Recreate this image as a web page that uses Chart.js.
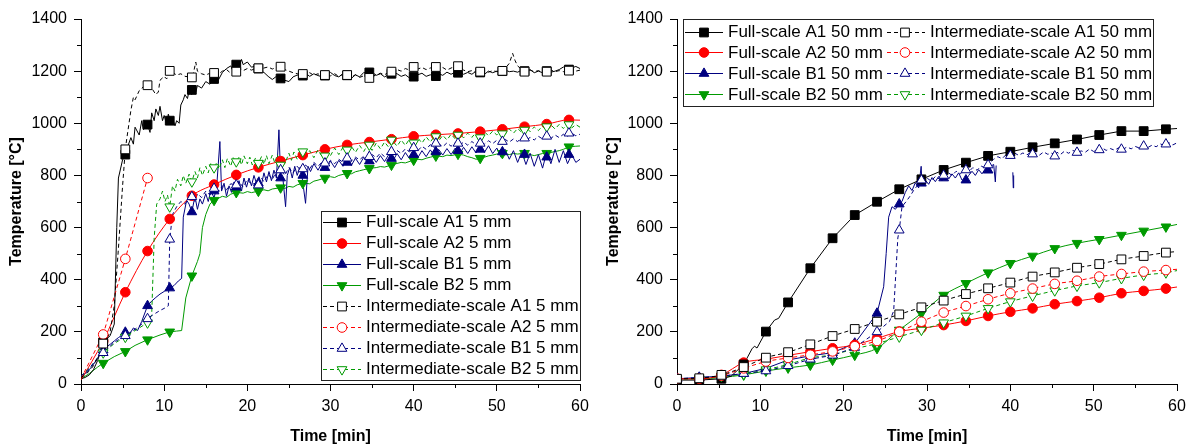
<!DOCTYPE html>
<html>
<head>
<meta charset="utf-8">
<script src="https://cdn.jsdelivr.net/npm/chart.js@4.4.1/dist/chart.umd.min.js"></script>
<style>
  html, body { margin: 0; padding: 0; background: #fff; }
  #wrap { position: relative; width: 1194px; height: 446px; }
  canvas { position: absolute; top: 0; }
</style>
</head>
<body>
<div id="wrap">
  <canvas id="left" width="597" height="446" style="left:0"></canvas>
  <canvas id="right" width="597" height="446" style="left:597px"></canvas>
</div>
<script>
// marker times in minutes (one every 160 s), plus the start and end of the test
const tSmooth = [0, 2.67, 5.33, 8, 10.67, 13.33, 16, 18.67, 21.33, 24, 26.67, 29.33, 32, 34.67, 37.33, 40, 42.67, 45.33, 48, 50.67, 53.33, 56, 58.67, 60];
const xMinor = [5, 15, 25, 35, 45, 55];
const yMinor = [100, 300, 500, 700, 900, 1100, 1300];

const leftLabels = ["Full-scale A1 5 mm", "Full-scale A2 5 mm", "Full-scale B1 5 mm", "Full-scale B2 5 mm",
  "Intermediate-scale A1 5 mm", "Intermediate-scale A2 5 mm", "Intermediate-scale B1 5 mm", "Intermediate-scale B2 5 mm"];
const rightLabels = ["Full-scale A1 50 mm", "Full-scale A2 50 mm", "Full-scale B1 50 mm", "Full-scale B2 50 mm",
  "Intermediate-scale A1 50 mm", "Intermediate-scale A2 50 mm", "Intermediate-scale B1 50 mm", "Intermediate-scale B2 50 mm"];

// ---- 5 mm (left panel) ----
const fs5A1Trace = [[0,20],[0.5,25],[1,35],[1.5,55],[2,90],[2.5,140],[2.67,160],[3,170],[3.5,185],[4,230],[4.3,600],[4.5,790],[5,860],[5.3,880],[5.5,900],[6,945],[6.3,920],[6.5,985],[7,955],[7.3,1010],[7.5,975],[8,995],[8.3,965],[8.5,1040],[8.8,1010],[9,1055],[9.3,1030],[9.5,1065],[9.8,1010],[10,1030],[10.3,995],[10.5,1035],[10.8,1000],[11,1020],[11.3,990],[11.5,1010],[11.8,1000],[12,1070],[12.3,1090],[12.5,1110],[12.8,1095],[13,1125],[13.3,1110],[13.5,1135],[13.8,1120],[14,1145],[14.5,1135],[15,1160],[15.5,1150],[16,1170],[16.5,1165],[17,1195],[17.5,1210],[18,1220],[18.3,1200],[18.5,1235],[19,1220],[19.3,1245],[19.5,1225],[20,1235],[20.5,1215],[21,1220],[21.5,1200],[22,1195],[22.5,1180],[23,1168],[23.5,1180],[24,1170],[24.5,1165],[25,1160],[25.5,1178],[26,1185],[26.5,1178],[27,1192],[27.5,1180],[28,1190],[28.5,1183],[29,1178],[29.5,1192],[30,1195],[30.5,1183],[31,1178],[31.5,1190],[32,1184],[32.5,1172],[33,1186],[33.5,1178],[34,1195],[34.5,1188],[35,1196],[35.5,1184],[36,1190],[36.5,1178],[37,1186],[37.5,1195],[38,1190],[38.5,1180],[39,1186],[39.5,1174],[40,1180],[40.5,1186],[41,1192],[41.5,1180],[42,1186],[42.5,1178],[43,1190],[43.5,1184],[44,1196],[44.5,1188],[45,1196],[45.5,1200],[46,1188],[46.5,1195],[47,1188],[47.5,1200],[48,1194],[48.5,1188],[49,1200],[49.5,1194],[50,1200],[50.5,1194],[51,1204],[51.5,1198],[52,1200],[52.5,1196],[53,1204],[53.5,1198],[54,1206],[54.5,1194],[55,1200],[55.5,1194],[56,1204],[56.5,1196],[57,1200],[57.5,1206],[58,1216],[58.5,1206],[59,1212],[59.5,1218],[60,1210]];
const fs5A1Marks = [null,160,880,995,1010,1128,1170,1225,1210,1172,1183,1183,1184,1195,1190,1179,1181,1194,1195,1200,1200,1200,1206,null];

const fs5A2 = [15,165,352,510,633,722,765,802,831,855,878,900,917,928,939,950,956,961,968,977,987,997,1013,1012];

const fs5B1Trace = [[0,30],[0.5,40],[1,55],[1.5,75],[2,100],[2.67,130],[3,140],[3.5,152],[4,165],[4.5,178],[5,188],[5.33,198],[5.8,190],[6.3,215],[6.8,205],[7.3,240],[8,300],[8.5,318],[9,332],[9.5,345],[10,355],[10.67,368],[11.2,378],[11.7,395],[12.1,405],[12.3,640],[12.7,705],[13,690],[13.33,660],[13.7,720],[14,670],[14.3,710],[14.6,690],[15,730],[15.3,700],[15.6,740],[16,715],[16.3,750],[16.7,930],[16.9,740],[17.2,770],[17.5,720],[17.8,760],[18.1,735],[18.4,775],[18.7,750],[19,780],[19.3,740],[19.6,790],[19.9,755],[20.2,790],[20.5,760],[20.8,800],[21.1,770],[21.4,795],[21.7,765],[22,810],[22.3,775],[22.6,815],[22.9,780],[23.2,820],[23.5,790],[23.8,975],[24,800],[24.3,780],[24.6,680],[24.8,800],[25.1,830],[25.4,790],[25.7,835],[26,800],[26.3,830],[26.6,790],[27,693],[27.3,835],[27.6,815],[28,845],[28.5,820],[29,850],[29.5,825],[30,855],[30.5,830],[31,858],[31.5,835],[32,862],[32.5,838],[33,866],[33.5,842],[34,870],[34.5,846],[35,874],[35.5,850],[36,876],[36.5,853],[37,880],[37.5,856],[38,884],[38.5,860],[39,888],[39.5,864],[40,892],[40.5,868],[41,895],[41.5,872],[42,898],[42.5,875],[43,900],[43.5,878],[44,903],[44.5,880],[45,905],[45.5,882],[46,908],[46.5,884],[47,910],[47.5,886],[48,912],[48.5,888],[49,914],[49.5,884],[50,905],[50.5,870],[51,900],[51.5,862],[52,895],[52.5,850],[53,890],[53.5,842],[54,885],[54.5,835],[55,880],[55.5,828],[56,890],[56.5,845],[57,900],[57.5,850],[58,895],[58.5,845],[59,880],[59.5,850],[60,862]];
const fs5B1Marks = [null,130,198,300,368,660,740,755,770,790,800,830,850,855,865,880,890,895,900,890,880,870,880,null];

const fs5B2Trace = [[0,20],[1,40],[2,65],[2.67,80],[4,105],[5.33,125],[6.5,148],[8,170],[9.5,188],[10.67,200],[11.5,203],[12.1,205],[12.6,330],[13.33,415],[14,470],[14.3,500],[14.6,600],[15,650],[15.5,690],[16,705],[16.5,712],[17,720],[17.5,716],[18,728],[18.67,735],[19.5,732],[20,738],[20.5,734],[21.33,740],[22,745],[22.5,741],[23,748],[24,753],[24.5,750],[25,758],[25.5,755],[26,764],[26.67,770],[27.5,768],[28,778],[28.5,782],[29.33,790],[30,795],[30.5,792],[31,800],[32,808],[32.5,806],[33,814],[33.5,818],[34,822],[34.67,827],[35.5,830],[36,834],[36.5,832],[37.33,840],[38,846],[38.5,850],[39,848],[40,859],[40.5,862],[41,860],[41.5,866],[42,870],[42.67,875],[43.5,872],[44,878],[44.5,876],[45.33,882],[46,878],[46.5,872],[47,868],[47.5,862],[48,866],[48.5,870],[49,875],[49.5,878],[50,882],[50.67,885],[51.5,880],[52,884],[52.5,882],[53.33,885],[54,880],[54.5,876],[55,880],[55.5,884],[56,885],[56.5,888],[57,892],[57.5,895],[58,900],[58.67,910],[59.5,912],[60,913]];
const fs5B2Marks = [null,80,125,170,200,415,705,735,740,753,770,790,808,827,840,859,875,882,866,885,885,885,910,null];

const is5A1Trace = [[0,25],[0.5,35],[1,50],[1.5,70],[2,100],[2.5,135],[2.67,155],[3,165],[3.5,200],[4,300],[4.5,520],[5,760],[5.33,900],[5.5,940],[6,1050],[6.3,1100],[6.5,1090],[7,1125],[7.5,1140],[8,1148],[8.5,1135],[9,1110],[9.3,1120],[9.5,1165],[10,1180],[10.3,1170],[10.67,1200],[11,1195],[11.5,1185],[12,1190],[12.5,1180],[13,1178],[13.5,1190],[13.8,1235],[14,1200],[14.5,1190],[15,1185],[15.5,1192],[16,1193],[16.5,1188],[17,1200],[17.5,1206],[18,1192],[18.5,1200],[19,1212],[19.5,1202],[20,1210],[20.5,1204],[21,1210],[21.5,1206],[22,1212],[22.5,1216],[23,1208],[23.5,1215],[24,1217],[24.5,1206],[25,1200],[25.5,1194],[26,1190],[26.5,1190],[27,1186],[27.5,1194],[28,1184],[28.5,1190],[29,1180],[29.5,1188],[30,1182],[30.5,1190],[31,1180],[31.5,1188],[32,1185],[32.5,1178],[33,1186],[33.5,1176],[34,1182],[34.5,1174],[35,1180],[35.5,1186],[36,1192],[36.5,1186],[37,1196],[37.5,1200],[38,1206],[38.5,1200],[39,1210],[39.5,1204],[40,1215],[40.5,1208],[41,1214],[41.5,1206],[42,1212],[42.5,1216],[43,1208],[43.5,1214],[44,1204],[44.5,1212],[45,1218],[45.5,1212],[46,1204],[46.5,1198],[47,1202],[47.5,1196],[48,1198],[48.5,1204],[49,1196],[49.5,1202],[50,1198],[50.5,1202],[51,1210],[51.5,1230],[51.9,1268],[52.2,1240],[52.5,1220],[53,1206],[53.5,1198],[54,1204],[54.5,1198],[55,1202],[55.5,1196],[56,1198],[56.5,1204],[57,1198],[57.5,1202],[58,1198],[58.5,1202],[59,1206],[59.5,1200],[60,1204]];
const is5A1Marks = [null,155,900,1146,1201,1176,1193,1198,1211,1217,1189,1185,1185,1174,1198,1216,1216,1219,1198,1201,1198,1198,1202,null];

const is5A2Trace = [[0,20],[2.67,190],[5.33,480],[8,790]];
const is5A2Marks = [null,190,480,790,null,null,null,null,null,null,null,null,null,null,null,null,null,null,null,null,null,null,null,null];

const is5B1Trace = [[0,30],[0.5,45],[1,60],[1.5,80],[2,100],[2.67,120],[3,130],[3.5,145],[4,160],[4.5,170],[5,180],[5.33,185],[6,200],[6.5,210],[7,222],[7.5,235],[8,250],[8.5,262],[9,272],[9.5,282],[10,290],[10.5,300],[10.67,555],[11,650],[11.5,680],[12,700],[12.5,690],[13,715],[13.33,718],[13.7,700],[14,730],[14.5,715],[15,740],[15.5,725],[16,750],[16.5,735],[17,760],[17.5,745],[18,768],[18.67,763],[19,775],[19.5,755],[20,785],[20.5,765],[21,770],[21.33,763],[21.7,790],[22,775],[22.5,805],[23,785],[23.5,815],[24,821],[24.5,800],[25,830],[25.5,810],[26,835],[26.5,815],[27,840],[27.5,825],[28,850],[28.5,835],[29,852],[29.5,840],[30,858],[30.5,845],[31,862],[31.5,850],[32,866],[32.5,855],[33,870],[33.5,860],[34,874],[34.5,865],[35,880],[35.5,868],[36,886],[36.5,872],[37,890],[37.5,880],[38,896],[38.5,884],[39,902],[39.5,890],[40,906],[40.5,895],[41,912],[41.5,900],[42,918],[42.5,906],[43,922],[43.5,910],[44,925],[44.5,912],[45,926],[45.5,914],[46,928],[46.5,916],[47,930],[47.5,918],[48,930],[48.5,920],[49,933],[49.5,922],[50,935],[50.5,925],[51,938],[51.5,928],[52,940],[52.5,930],[53,944],[53.5,934],[54,946],[54.5,936],[55,950],[55.5,940],[56,952],[56.5,942],[57,955],[57.5,945],[58,958],[58.5,950],[59,962],[59.5,952],[60,958]];
const is5B1Marks = [null,120,185,250,555,718,750,763,763,821,825,847,866,872,891,906,923,923,923,930,943,950,962,null];

const is5B2Trace = [[0,30],[0.5,45],[1,60],[1.5,80],[2,100],[2.67,120],[3,128],[3.5,142],[4,155],[4.5,165],[5,175],[5.33,180],[6,195],[6.5,205],[7,215],[7.5,225],[8,235],[8.5,265],[8.8,560],[9.1,690],[9.5,710],[9.8,740],[10.1,700],[10.4,725],[10.67,680],[11,760],[11.3,740],[11.6,785],[12,760],[12.3,800],[12.6,770],[13,805],[13.33,776],[13.7,815],[14,790],[14.3,830],[14.6,800],[15,835],[15.3,810],[15.6,845],[16,820],[16.3,850],[16.6,825],[17,860],[17.3,830],[17.6,865],[18,835],[18.3,868],[18.67,853],[19,870],[19.3,840],[19.6,875],[20,845],[20.3,870],[20.6,840],[21,868],[21.33,847],[21.7,872],[22,842],[22.3,876],[22.6,845],[23,878],[23.3,848],[23.6,880],[24,840],[24.3,875],[24.6,852],[25,885],[25.3,858],[25.6,890],[26,862],[26.3,892],[26.67,891],[27,870],[27.5,895],[28,868],[28.5,898],[29,872],[29.5,900],[30,876],[30.5,905],[31,880],[31.5,908],[32,884],[32.5,912],[33,888],[33.5,915],[34,892],[34.5,920],[35,896],[35.5,924],[36,902],[36.5,928],[37,908],[37.5,932],[38,912],[38.5,936],[39,915],[39.5,940],[40,920],[40.5,944],[41,924],[41.5,948],[42,928],[42.5,950],[43,932],[43.5,954],[44,936],[44.5,958],[45,940],[45.5,960],[46,944],[46.5,962],[47,946],[47.5,965],[48,948],[48.5,968],[49,952],[49.5,970],[50,955],[50.5,974],[51,958],[51.5,978],[52,962],[52.5,980],[53,965],[53.5,984],[54,968],[54.5,986],[55,972],[55.5,990],[56,975],[56.5,994],[57,978],[57.5,996],[58,980],[58.5,998],[59,982],[59.5,995],[60,985]];
const is5B2Marks = [null,120,180,235,680,776,830,853,847,840,891,875,898,917,936,925,949,955,945,960,974,987,995,null];

// ---- 50 mm (right panel) ----
const fs50A1Trace = [[0,15],[2.67,15],[5.33,20],[6.5,30],[8,75],[9,135],[9.3,145],[9.6,138],[10.67,201],[11.7,245],[12.2,252],[13.33,313],[16,444],[18.67,559],[21.33,648],[24,699],[26.67,747],[29.33,785],[32,821],[34.67,849],[37.33,875],[40,891],[42.67,908],[45.33,923],[48,938],[50.67,955],[53.33,970],[56,970],[58.67,977],[60,980]];
const fs50A1Marks = [15,15,20,75,201,313,444,559,648,699,747,785,821,849,875,891,908,923,938,955,970,970,977,null];

const fs50A2 = [20,20,35,82,95,110,124,137,150,175,201,214,226,242,261,277,290,306,318,331,348,357,366,372];

const fs50B1Trace = [[0,20],[2.67,25],[5.33,30],[8,40],[10.67,60],[13.33,92],[16,108],[18.67,120],[21.33,156],[24,271],[24.8,373],[25.1,500],[25.4,640],[25.8,680],[26.2,670],[26.67,690],[27,700],[27.4,735],[27.8,760],[28.2,742],[28.6,772],[29,752],[29.3,835],[29.4,760],[29.8,782],[30.2,766],[30.6,792],[31,776],[31.4,796],[31.8,780],[32.2,800],[32.6,786],[33,806],[33.4,790],[33.8,810],[34.2,782],[34.67,782],[35,800],[35.4,816],[35.8,800],[36.2,822],[36.6,806],[37,826],[37.33,820],[37.7,836],[38,842],[38.2,775],[38.3,838],[38.35,null],[40.3,812],[40.35,752],[40.4,800]];
const fs50B1Marks = [20,25,30,40,60,92,108,120,156,271,690,770,790,782,820,null,null,null,null,null,null,null,null,null];

const fs50B2 = [20,20,25,35,50,62,73,92,111,137,207,271,341,386,427,463,491,520,540,555,571,587,603,612];

const is50A1 = [20,22,35,65,101,122,152,184,211,239,267,294,320,345,367,389,412,428,446,460,478,491,504,508];
const is50A2 = [20,20,32,60,86,100,112,125,145,165,200,239,274,299,325,348,366,384,396,412,422,431,437,440];

const is50B1Trace = [[0,20],[2.67,25],[5.33,30],[8,40],[10.67,50],[13.33,70],[16,95],[18.67,110],[21.33,140],[24,200],[25.5,240],[26,280],[26.5,560],[26.67,590],[27,680],[27.5,700],[28,722],[28.5,748],[29,765],[29.33,782],[29.6,768],[30,790],[30.5,778],[31,796],[31.5,786],[32,800],[32.5,812],[33,800],[33.5,816],[34,806],[34.5,822],[35,814],[35.5,830],[36,820],[36.5,836],[37,828],[37.33,840],[37.6,850],[38,862],[38.5,872],[39,864],[39.5,880],[40,874],[40.5,886],[41,877],[41.5,886],[42,879],[42.5,890],[43,884],[43.5,878],[44,890],[44.5,881],[45,886],[45.33,874],[45.6,889],[46,880],[46.5,893],[47,885],[47.5,896],[48,888],[48.5,894],[49,889],[49.5,901],[50,892],[50.5,899],[51,906],[51.5,896],[52,903],[52.5,897],[53,906],[53.5,900],[54,909],[54.5,902],[55,911],[55.5,905],[56,912],[56.5,907],[57,916],[57.5,910],[58,921],[58.5,914],[59,926],[59.5,917],[60,925]];
const is50B1Marks = [20,25,30,40,50,70,95,110,140,200,590,782,800,821,840,876,882,874,888,898,900,912,920,null];

const is50B2 = [20,20,30,38,55,75,100,112,135,155,181,207,235,261,290,316,338,358,376,389,405,418,427,435];

// ---- styles ----
const BLACK = "#000000", RED = "#ff0000", NAVY = "#000080", GREEN = "#009a00";
const styleOf = {
  A1: { color: BLACK, style: "rect", r: 6.2, rot: 0 },
  A2: { color: RED, style: "circle", r: 4.8, rot: 0 },
  B1: { color: NAVY, style: "triangle", r: 5.6, rot: 0 },
  B2: { color: GREEN, style: "triangle", r: 5.6, rot: 180 }
};

Chart.defaults.font.family = "'Liberation Sans', Arial, sans-serif";
Chart.defaults.color = "#000";

const leftSeries = [
  { kind: "A1", inter: false, trace: fs5A1Trace, marks: fs5A1Marks },
  { kind: "A2", inter: false, values: fs5A2 },
  { kind: "B1", inter: false, trace: fs5B1Trace, marks: fs5B1Marks },
  { kind: "B2", inter: false, trace: fs5B2Trace, marks: fs5B2Marks },
  { kind: "A1", inter: true, trace: is5A1Trace, marks: is5A1Marks },
  { kind: "A2", inter: true, trace: is5A2Trace, marks: is5A2Marks },
  { kind: "B1", inter: true, trace: is5B1Trace, marks: is5B1Marks },
  { kind: "B2", inter: true, trace: is5B2Trace, marks: is5B2Marks }
];
const rightSeries = [
  { kind: "A1", inter: false, trace: fs50A1Trace, marks: fs50A1Marks },
  { kind: "A2", inter: false, values: fs50A2 },
  { kind: "B1", inter: false, trace: fs50B1Trace, marks: fs50B1Marks },
  { kind: "B2", inter: false, values: fs50B2 },
  { kind: "A1", inter: true, values: is50A1 },
  { kind: "A2", inter: true, values: is50A2 },
  { kind: "B1", inter: true, trace: is50B1Trace, marks: is50B1Marks },
  { kind: "B2", inter: true, values: is50B2 }
];

function makeSets(series, markAtZero) {
  const sets = [];
  series.forEach(s => {
    const st = styleOf[s.kind];
    const pts = s.trace
      ? s.trace.map(p => ({ x: p[0], y: p[1] }))
      : tSmooth.map((t, i) => ({ x: t, y: s.values[i] }));
    sets.push({
      data: pts, showLine: true, borderColor: st.color, borderWidth: 1,
      borderDash: s.inter ? [4, 3] : [], pointRadius: 0, pointHoverRadius: 0,
      cubicInterpolationMode: s.trace ? "default" : "monotone",
      spanGaps: false, order: s.inter ? 3 : 4
    });
    const marks = s.marks || s.values;
    const mpts = tSmooth.map((t, i) => ({ x: t, y: marks[i] }))
      .filter((p, i) => p.y !== null && i < tSmooth.length - 1 && (markAtZero || i > 0));
    sets.push({
      data: mpts, showLine: false, pointStyle: st.style, pointRadius: st.r,
      pointRotation: st.rot, pointBorderColor: st.color, pointHoverRadius: st.r,
      pointBackgroundColor: s.inter ? "#fff" : st.color, pointBorderWidth: 1,
      order: s.inter ? 1 : 2
    });
  });
  return sets;
}

const minorTicks = {
  id: "minorTicks",
  afterDraw(chart) {
    const { ctx, scales: { x, y }, chartArea: a } = chart;
    ctx.save();
    ctx.strokeStyle = "#000";
    ctx.lineWidth = 1;
    ctx.beginPath();
    xMinor.forEach(v => {
      const p = Math.round(x.getPixelForValue(v)) + 0.5;
      ctx.moveTo(p, a.bottom); ctx.lineTo(p, a.bottom + 4);
    });
    yMinor.forEach(v => {
      const p = Math.round(y.getPixelForValue(v)) + 0.5;
      ctx.moveTo(a.left, p); ctx.lineTo(a.left - 4, p);
    });
    ctx.stroke();
    ctx.restore();
  }
};

// legend drawn in the canvas: box, line sample with marker, label
function boxLegend(series, labels, box, rows) {
  return {
    id: "boxLegend",
    afterDraw(chart) {
      const ctx = chart.ctx;
      ctx.save();
      ctx.fillStyle = "#fff";
      ctx.fillRect(box.x, box.y, box.w, box.h);
      ctx.strokeStyle = "#222";
      ctx.lineWidth = 1;
      ctx.strokeRect(box.x + 0.5, box.y + 0.5, box.w, box.h);
      ctx.font = "17px 'Liberation Sans', Arial, sans-serif";
      ctx.textBaseline = "middle";
      series.forEach((s, i) => {
        const st = styleOf[s.kind];
        const r = rows(i);
        ctx.strokeStyle = st.color;
        ctx.setLineDash(s.inter ? [4, 3] : []);
        ctx.beginPath();
        ctx.moveTo(r.x0, Math.round(r.y) + 0.5);
        ctx.lineTo(r.x1, Math.round(r.y) + 0.5);
        ctx.stroke();
        ctx.setLineDash([]);
        ctx.fillStyle = s.inter ? "#fff" : st.color;
        Chart.helpers.drawPoint(ctx, { pointStyle: st.style, radius: st.r, rotation: st.rot, borderWidth: 1 }, r.mx, Math.round(r.y) + 0.5);
        ctx.fillStyle = "#000";
        ctx.fillText(labels[i], r.tx, r.y + 1);
      });
      ctx.restore();
    }
  };
}

function makeOptions(yWidth) {
  return {
    responsive: false,
    animation: false,
    events: [],
    layout: { padding: { left: 0, top: 19, right: 17, bottom: 0 } },
    plugins: { legend: { display: false }, tooltip: { enabled: false } },
    scales: {
      x: {
        type: "linear", min: 0, max: 60,
        afterFit: s => { s.height = 62; },
        ticks: { stepSize: 10, color: "#000", font: { size: 16 }, padding: 6, maxRotation: 0, callback: v => String(v) },
        grid: { display: true, drawOnChartArea: false, drawTicks: true, tickLength: 7, color: "#000", lineWidth: 1 },
        border: { display: true, color: "#000", width: 1 },
        title: { display: true, text: "Time [min]", color: "#000", font: { size: 16, weight: "bold" }, padding: { top: 0, bottom: 0 } }
      },
      y: {
        type: "linear", min: 0, max: 1400,
        afterFit: s => { s.width = yWidth; },
        ticks: { stepSize: 200, color: "#000", font: { size: 16 }, padding: 7, callback: v => String(v) },
        grid: { display: true, drawOnChartArea: false, drawTicks: true, tickLength: 7, color: "#000", lineWidth: 1 },
        border: { display: true, color: "#000", width: 1 },
        title: { display: true, text: "Temperature [°C]", color: "#000", font: { size: 16, weight: "bold" }, padding: { top: 7, bottom: 0 } }
      }
    }
  };
}

new Chart(document.getElementById("left"), {
  type: "scatter",
  data: { datasets: makeSets(leftSeries, false) },
  options: makeOptions(81),
  plugins: [minorTicks, boxLegend(leftSeries, leftLabels, { x: 321, y: 211, w: 259, h: 169 },
    i => ({ x0: 323, x1: 361, mx: 342, tx: 366, y: 221.5 + 21 * i }))]
});

new Chart(document.getElementById("right"), {
  type: "scatter",
  data: { datasets: makeSets(rightSeries, true) },
  options: makeOptions(80),
  plugins: [minorTicks, boxLegend(rightSeries, rightLabels, { x: 86, y: 19, w: 470, h: 87 },
    i => i < 4
      ? { x0: 88, x1: 126, mx: 107, tx: 131, y: 31.5 + 20.8 * i }
      : { x0: 290, x1: 328, mx: 308, tx: 333, y: 31.5 + 20.8 * (i - 4) })]
});
</script>
</body>
</html>
